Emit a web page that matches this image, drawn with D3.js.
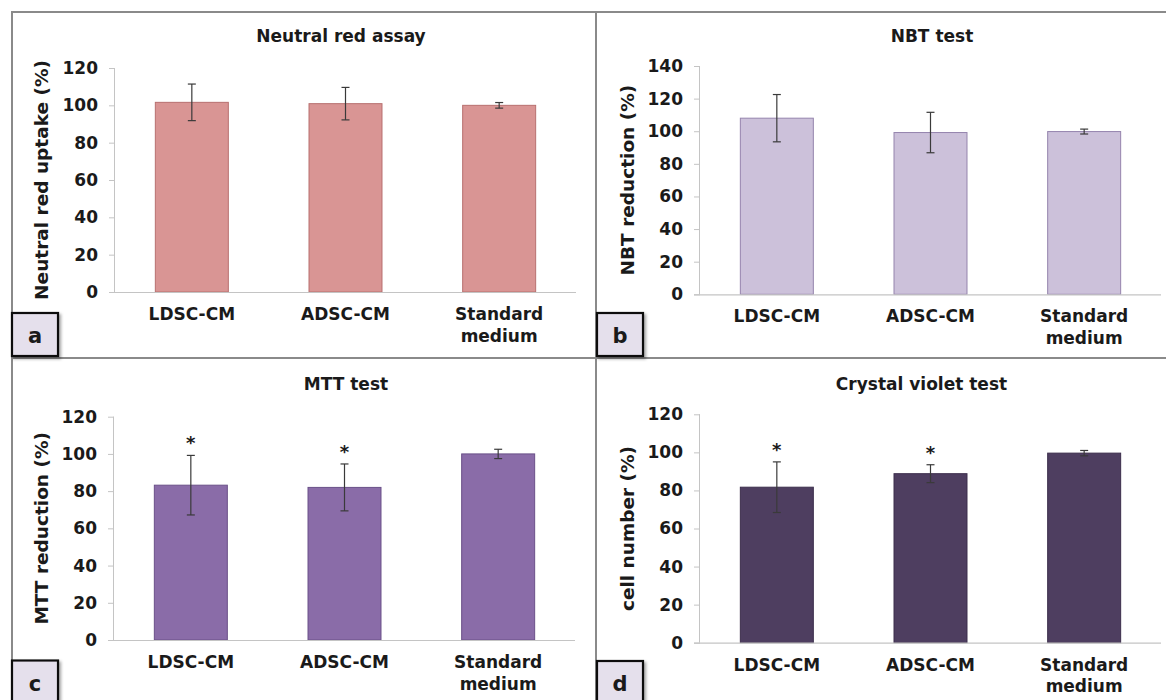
<!DOCTYPE html>
<html>
<head>
<meta charset="utf-8">
<script src="https://cdn.jsdelivr.net/npm/d3@7"></script>
<style>
  html, body { margin: 0; padding: 0; background: #fff; }
  svg { display: block; }
  text { font-family: "DejaVu Sans", Verdana, sans-serif; font-weight: bold; fill: #1a1a1a; }
</style>
</head>
<body>
<svg id="chart" width="1166" height="700"></svg>
<script>
// ---- Data ----
const categories = ["LDSC-CM", "ADSC-CM", "Standard medium"];
const categoryLines = [["LDSC-CM"], ["ADSC-CM"], ["Standard", "medium"]];

const neutralRedMean = [101.6, 100.9, 100.0];
const neutralRedErr  = [9.8, 8.7, 1.5];

const nbtMean = [108.0, 99.2, 99.8];
const nbtErr  = [14.5, 12.4, 1.5];

const mttMean = [83.2, 82.0, 100.0];
const mttErr  = [16.0, 12.6, 2.5];
const mttSignificant = [true, true, false];

const crystalMean = [81.7, 88.8, 99.6];
const crystalErr  = [13.3, 4.7, 1.4];
const crystalSignificant = [true, true, false];

const ticks120 = [0, 20, 40, 60, 80, 100, 120];
const ticks140 = [0, 20, 40, 60, 80, 100, 120, 140];

const panelTitles = ["Neutral red assay", "NBT test", "MTT test", "Crystal violet test"];
const panelYLabels = ["Neutral red uptake (%)", "NBT reduction (%)", "MTT reduction (%)", "cell number (%)"];
const panelLetters = ["a", "b", "c", "d"];

// ---- Layout / styles ----
const panels = [
  { mean: neutralRedMean, err: neutralRedErr, sig: [false,false,false], ticks: ticks120,
    x0: 115, x1: 576, y0: 292, yTop: 68, titleX: 341, titleY: 42, labelX: 41.5,
    fill: "#d99594", stroke: "#b8706f", box: { x: 11, y: 312 } },
  { mean: nbtMean, err: nbtErr, sig: [false,false,false], ticks: ticks140,
    x0: 700, x1: 1161, y0: 294.3, yTop: 66, titleX: 932, titleY: 42, labelX: 627.5,
    fill: "#ccc1da", stroke: "#9584ad", box: { x: 596, y: 312 } },
  { mean: mttMean, err: mttErr, sig: mttSignificant, ticks: ticks120,
    x0: 114, x1: 575, y0: 640, yTop: 416.7, titleX: 346, titleY: 389.5, labelX: 41,
    fill: "#8a6ca8", stroke: "#6a5088", box: { x: 11, y: 659.5 } },
  { mean: crystalMean, err: crystalErr, sig: crystalSignificant, ticks: ticks120,
    x0: 700, x1: 1161, y0: 642.7, yTop: 414.3, titleX: 921.5, titleY: 389.5, labelX: 627,
    fill: "#4e3e60", stroke: "#3c2e4c", box: { x: 596, y: 660 } }
];

const svg = d3.select("#chart");

// drop shadow filter for letter boxes
const defs = svg.append("defs");
const f = defs.append("filter").attr("id", "shadow").attr("x", "-20%").attr("y", "-20%").attr("width", "150%").attr("height", "150%");
f.append("feDropShadow").attr("dx", 2).attr("dy", 2).attr("stdDeviation", 1.5).attr("flood-color", "#000").attr("flood-opacity", 0.35);

// frame lines
const frame = svg.append("g").attr("stroke", "#8a8a8a").attr("stroke-width", 2);
frame.append("line").attr("x1", 11).attr("x2", 1166).attr("y1", 12).attr("y2", 12);
frame.append("line").attr("x1", 12).attr("x2", 12).attr("y1", 11).attr("y2", 700);
frame.append("line").attr("x1", 596).attr("x2", 596).attr("y1", 11).attr("y2", 700);
frame.append("line").attr("x1", 11).attr("x2", 1166).attr("y1", 358).attr("y2", 358);

panels.forEach((p, i) => {
  const g = svg.append("g");
  const x = d3.scaleBand().domain(categories).range([p.x0, p.x1]).paddingInner(0.525).paddingOuter(0.2625);
  const y = d3.scaleLinear().domain([0, d3.max(p.ticks)]).range([p.y0, p.yTop]);

  // y axis
  const yAxis = g.append("g").attr("transform", `translate(${p.x0},0)`)
    .call(d3.axisLeft(y).tickValues(p.ticks).tickSize(6).tickPadding(11).tickFormat(d3.format("d")));
  yAxis.select(".domain").attr("stroke", "#c4c4c4").attr("d", `M-0.5,${p.y0}V${p.yTop}`);
  yAxis.selectAll(".tick line").attr("stroke", "#c4c4c4");
  yAxis.selectAll(".tick text").style("font-size", "17px").style("font-family", "DejaVu Sans, Verdana, sans-serif")
    .style("font-weight", "bold").attr("fill", "#1a1a1a");

  // bars
  g.selectAll("rect.bar").data(p.mean).join("rect")
    .attr("class", "bar")
    .attr("x", (d, j) => x(categories[j]))
    .attr("width", x.bandwidth())
    .attr("y", d => y(d))
    .attr("height", d => y(0) - y(d))
    .attr("fill", p.fill).attr("stroke", p.stroke).attr("stroke-width", 1);

  // x axis baseline
  g.append("line").attr("x1", p.x0 - 6).attr("x2", p.x1).attr("y1", p.y0 + 0.5).attr("y2", p.y0 + 0.5)
    .attr("stroke", "#c4c4c4").attr("stroke-width", 1.2);

  // error bars
  const eb = g.append("g").attr("stroke", "#3a3a3a").attr("stroke-width", 1.2);
  p.mean.forEach((m, j) => {
    const cx = x(categories[j]) + x.bandwidth() / 2;
    const top = y(m + p.err[j]), bot = y(m - p.err[j]);
    eb.append("line").attr("x1", cx).attr("x2", cx).attr("y1", top).attr("y2", bot);
    eb.append("line").attr("x1", cx - 4).attr("x2", cx + 4).attr("y1", top).attr("y2", top);
    eb.append("line").attr("x1", cx - 4).attr("x2", cx + 4).attr("y1", bot).attr("y2", bot);
    if (p.sig[j]) {
      g.append("text").attr("x", cx).attr("y", top - 6).attr("text-anchor", "middle")
        .style("font-size", "18px").text("*");
    }
  });

  // category labels
  categoryLines.forEach((lines, j) => {
    const cx = x(categories[j]) + x.bandwidth() / 2;
    lines.forEach((ln, k) => {
      g.append("text").attr("x", cx).attr("y", p.y0 + 28 + k * 21.5).attr("text-anchor", "middle")
        .style("font-size", "17px").text(ln);
    });
  });

  // title
  g.append("text").attr("x", p.titleX).attr("y", p.titleY).attr("text-anchor", "middle")
    .style("font-size", "17px").text(panelTitles[i]);

  // y label
  g.append("text")
    .attr("transform", `translate(${p.labelX},${(p.y0 + p.yTop) / 2}) rotate(-90)`)
    .attr("text-anchor", "middle").attr("dy", "0.36em")
    .style("font-size", "18.5px").text(panelYLabels[i]);

  // letter box
  const bx = svg.append("g");
  bx.append("rect").attr("x", p.box.x + 1).attr("y", p.box.y + 1).attr("width", 46).attr("height", 43)
    .attr("fill", "#e5e0ec").attr("stroke", "#111").attr("stroke-width", 2.2).attr("filter", "url(#shadow)");
  bx.append("text").attr("x", p.box.x + 24).attr("y", p.box.y + 31).attr("text-anchor", "middle")
    .style("font-size", "21px").text(panelLetters[i]);
});
</script>
</body>
</html>
